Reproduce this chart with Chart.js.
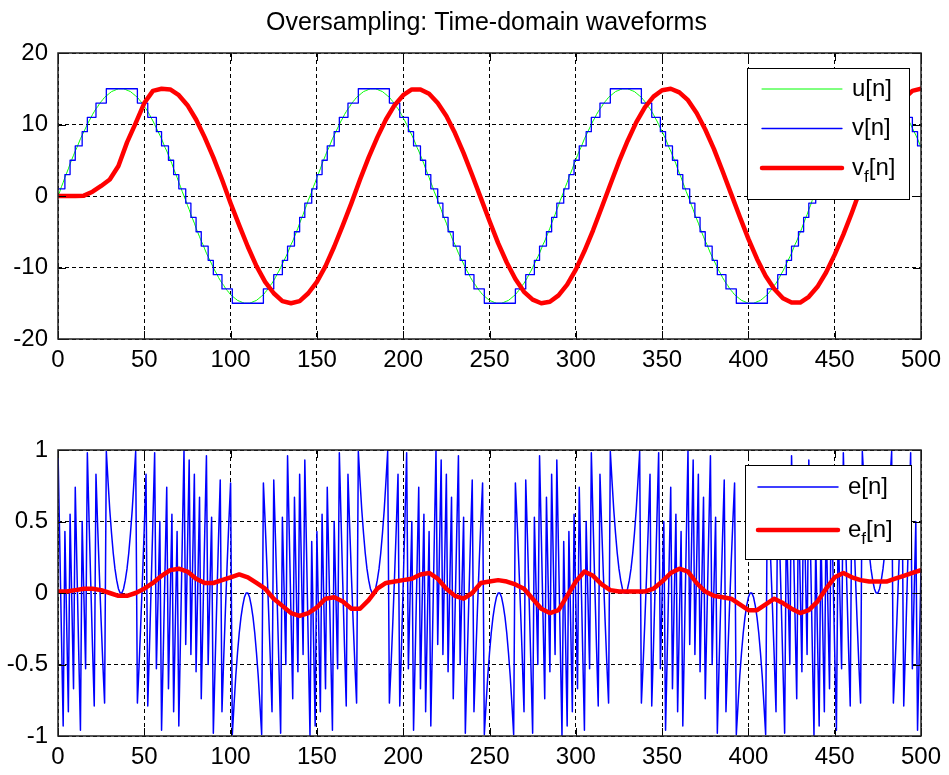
<!DOCTYPE html>
<html>
<head>
<meta charset="utf-8">
<script src="https://cdn.jsdelivr.net/npm/chart.js@4.4.1/dist/chart.umd.min.js"></script>
<style>
  body { margin: 0; background: #fff; }
  #wrap { position: relative; width: 949px; height: 775px; }
  canvas { position: absolute; left: 0; }
</style>
</head>
<body>
<div id="wrap">
  <canvas id="top" width="949" height="390" style="top:0"></canvas>
  <canvas id="bottom" width="949" height="385" style="top:390px"></canvas>
</div>
<script>
// u[n]: input sine, one value per sample n = 0..500
const u = [
  // n 0-145
  0,0.6,1.3,1.9,2.6,3.2,3.8,4.5,5.1,5.7,
  6.3,6.8,7.4,8.0,8.5,9.0,9.5,10.0,10.5,10.9,
  11.4,11.8,12.2,12.5,12.9,13.2,13.5,13.8,14.0,14.2,
  14.4,14.6,14.7,14.8,14.9,15.0,15.0,15.0,15.0,14.9,
  14.8,14.7,14.6,14.4,14.2,14.0,13.8,13.5,13.2,12.9,
  12.5,12.2,11.8,11.4,10.9,10.5,10.0,9.5,9.0,8.5,
  8.0,7.4,6.8,6.3,5.7,5.1,4.5,3.8,3.2,2.6,
  1.9,1.3,0.6,0,-0.6,-1.3,-1.9,-2.6,-3.2,-3.8,
  -4.5,-5.1,-5.7,-6.3,-6.8,-7.4,-8.0,-8.5,-9.0,-9.5,
  -10.0,-10.5,-10.9,-11.4,-11.8,-12.2,-12.5,-12.9,-13.2,-13.5,
  -13.8,-14.0,-14.2,-14.4,-14.6,-14.7,-14.8,-14.9,-15.0,-15.0,
  -15.0,-15.0,-14.9,-14.8,-14.7,-14.6,-14.4,-14.2,-14.0,-13.8,
  -13.5,-13.2,-12.9,-12.5,-12.2,-11.8,-11.4,-10.9,-10.5,-10.0,
  -9.5,-9.0,-8.5,-8.0,-7.4,-6.8,-6.3,-5.7,-5.1,-4.5,
  -3.8,-3.2,-2.6,-1.9,-1.3,-0.6,
  // n 146-291
  0,0.6,1.3,1.9,2.6,3.2,3.8,4.5,5.1,5.7,
  6.3,6.8,7.4,8.0,8.5,9.0,9.5,10.0,10.5,10.9,
  11.4,11.8,12.2,12.5,12.9,13.2,13.5,13.8,14.0,14.2,
  14.4,14.6,14.7,14.8,14.9,15.0,15.0,15.0,15.0,14.9,
  14.8,14.7,14.6,14.4,14.2,14.0,13.8,13.5,13.2,12.9,
  12.5,12.2,11.8,11.4,10.9,10.5,10.0,9.5,9.0,8.5,
  8.0,7.4,6.8,6.3,5.7,5.1,4.5,3.8,3.2,2.6,
  1.9,1.3,0.6,0,-0.6,-1.3,-1.9,-2.6,-3.2,-3.8,
  -4.5,-5.1,-5.7,-6.3,-6.8,-7.4,-8.0,-8.5,-9.0,-9.5,
  -10.0,-10.5,-10.9,-11.4,-11.8,-12.2,-12.5,-12.9,-13.2,-13.5,
  -13.8,-14.0,-14.2,-14.4,-14.6,-14.7,-14.8,-14.9,-15.0,-15.0,
  -15.0,-15.0,-14.9,-14.8,-14.7,-14.6,-14.4,-14.2,-14.0,-13.8,
  -13.5,-13.2,-12.9,-12.5,-12.2,-11.8,-11.4,-10.9,-10.5,-10.0,
  -9.5,-9.0,-8.5,-8.0,-7.4,-6.8,-6.3,-5.7,-5.1,-4.5,
  -3.8,-3.2,-2.6,-1.9,-1.3,-0.6,
  // n 292-437
  0,0.6,1.3,1.9,2.6,3.2,3.8,4.5,5.1,5.7,
  6.3,6.8,7.4,8.0,8.5,9.0,9.5,10.0,10.5,10.9,
  11.4,11.8,12.2,12.5,12.9,13.2,13.5,13.8,14.0,14.2,
  14.4,14.6,14.7,14.8,14.9,15.0,15.0,15.0,15.0,14.9,
  14.8,14.7,14.6,14.4,14.2,14.0,13.8,13.5,13.2,12.9,
  12.5,12.2,11.8,11.4,10.9,10.5,10.0,9.5,9.0,8.5,
  8.0,7.4,6.8,6.3,5.7,5.1,4.5,3.8,3.2,2.6,
  1.9,1.3,0.6,0,-0.6,-1.3,-1.9,-2.6,-3.2,-3.8,
  -4.5,-5.1,-5.7,-6.3,-6.8,-7.4,-8.0,-8.5,-9.0,-9.5,
  -10.0,-10.5,-10.9,-11.4,-11.8,-12.2,-12.5,-12.9,-13.2,-13.5,
  -13.8,-14.0,-14.2,-14.4,-14.6,-14.7,-14.8,-14.9,-15.0,-15.0,
  -15.0,-15.0,-14.9,-14.8,-14.7,-14.6,-14.4,-14.2,-14.0,-13.8,
  -13.5,-13.2,-12.9,-12.5,-12.2,-11.8,-11.4,-10.9,-10.5,-10.0,
  -9.5,-9.0,-8.5,-8.0,-7.4,-6.8,-6.3,-5.7,-5.1,-4.5,
  -3.8,-3.2,-2.6,-1.9,-1.3,-0.6,
  // n 438-500
  0,0.6,1.3,1.9,2.6,3.2,3.8,4.5,5.1,5.7,
  6.3,6.8,7.4,8.0,8.5,9.0,9.5,10.0,10.5,10.9,
  11.4,11.8,12.2,12.5,12.9,13.2,13.5,13.8,14.0,14.2,
  14.4,14.6,14.7,14.8,14.9,15.0,15.0,15.0,15.0,14.9,
  14.8,14.7,14.6,14.4,14.2,14.0,13.8,13.5,13.2,12.9,
  12.5,12.2,11.8,11.4,10.9,10.5,10.0,9.5,9.0,8.5,
  8.0,7.4,6.8
];

// v[n]: quantized staircase, sample where each level starts and the level
const vN = [
  0,4,7,10,14,17,22,28,46,52,57,60,64,67,70,
  74,77,80,83,87,90,95,101,119,125,130,133,137,140,143,
  147,150,153,156,160,163,168,174,192,198,203,206,210,213,216,
  220,223,226,229,233,236,241,247,265,271,276,279,283,286,289,
  293,296,299,302,306,309,314,320,338,344,349,352,356,359,362,
  366,369,372,375,379,382,387,393,411,417,422,425,429,432,435,
  439,442,445,448,452,455,460,466,484,490,495,498,500
];
const vLevel = [
  1,3,5,7,9,11,13,15,13,11,9,7,5,3,1,
  -1,-3,-5,-7,-9,-11,-13,-15,-13,-11,-9,-7,-5,-3,-1,
  1,3,5,7,9,11,13,15,13,11,9,7,5,3,1,
  -1,-3,-5,-7,-9,-11,-13,-15,-13,-11,-9,-7,-5,-3,-1,
  1,3,5,7,9,11,13,15,13,11,9,7,5,3,1,
  -1,-3,-5,-7,-9,-11,-13,-15,-13,-11,-9,-7,-5,-3,-1,
  1,3,5,7,9,11,13,15,13,11,9,7,7
];

// v_f[n]: filtered output, every 5th sample (n = 0, 5, ..., 500)
const vf = [
  0,0,0,0.05,0.6,1.4,2.3,4.2,7.5,10.2,
  13.0,14.7,15.0,14.9,14.1,12.7,10.7,8.2,5.4,2.3,
  -1.0,-4.1,-7.1,-9.8,-12.0,-13.6,-14.7,-15.0,-14.7,-13.6,
  -12.0,-9.8,-7.1,-4.1,-1.0,2.3,5.4,8.2,10.7,12.7,
  14.1,14.9,14.9,14.3,13.0,11.2,8.8,6.0,2.9,-0.3,
  -3.5,-6.6,-9.3,-11.6,-13.4,-14.5,-15.0,-14.8,-13.9,-12.4,
  -10.3,-7.7,-4.8,-1.6,1.6,4.8,7.7,10.3,12.4,13.9,
  14.8,15.0,14.5,13.4,11.6,9.3,6.6,3.5,0.3,-2.9,
  -6.0,-8.8,-11.2,-13.0,-14.3,-14.9,-14.9,-14.1,-12.7,-10.7,
  -8.2,-5.4,-2.3,1.0,4.1,7.1,9.8,12.0,13.6,14.7,
  15.0
];

// e[n]: quantization error, one value per sample n = 0..500
const e = [
  // n 0-145
  1.00,0.36,-0.29,-0.93,0.43,-0.20,-0.83,0.55,-0.06,-0.67,
  0.74,0.16,-0.41,-0.96,0.50,-0.02,-0.53,0.98,0.51,0.06,
  -0.38,-0.79,0.83,0.46,0.12,-0.20,-0.50,-0.77,0.99,0.78,
  0.58,0.42,0.28,0.17,0.09,0.03,0.00,0.00,0.03,0.09,
  0.17,0.28,0.42,0.58,0.78,0.99,-0.77,-0.50,-0.20,0.12,
  0.46,0.83,-0.79,-0.38,0.06,0.51,0.98,-0.53,-0.02,0.50,
  -0.96,-0.41,0.16,0.74,-0.67,-0.06,0.55,-0.83,-0.20,0.43,
  -0.93,-0.29,0.36,1.00,-0.36,0.29,0.93,-0.43,0.20,0.83,
  -0.55,0.06,0.67,-0.74,-0.16,0.41,0.96,-0.50,0.02,0.53,
  -0.98,-0.51,-0.06,0.38,0.79,-0.83,-0.46,-0.12,0.20,0.50,
  0.77,-0.99,-0.78,-0.58,-0.42,-0.28,-0.17,-0.09,-0.03,0.00,
  0.00,-0.03,-0.09,-0.17,-0.28,-0.42,-0.58,-0.78,-0.99,0.77,
  0.50,0.20,-0.12,-0.46,-0.83,0.79,0.38,-0.06,-0.51,-0.98,
  0.53,0.02,-0.50,0.96,0.41,-0.16,-0.74,0.67,0.06,-0.55,
  0.83,0.20,-0.43,0.93,0.29,-0.36,
  // n 146-291
  -1.00,0.36,-0.29,-0.93,0.43,-0.20,-0.83,0.55,-0.06,-0.67,
  0.74,0.16,-0.41,-0.96,0.50,-0.02,-0.53,0.98,0.51,0.06,
  -0.38,-0.79,0.83,0.46,0.12,-0.20,-0.50,-0.77,0.99,0.78,
  0.58,0.42,0.28,0.17,0.09,0.03,0.00,0.00,0.03,0.09,
  0.17,0.28,0.42,0.58,0.78,0.99,-0.77,-0.50,-0.20,0.12,
  0.46,0.83,-0.79,-0.38,0.06,0.51,0.98,-0.53,-0.02,0.50,
  -0.96,-0.41,0.16,0.74,-0.67,-0.06,0.55,-0.83,-0.20,0.43,
  -0.93,-0.29,0.36,1.00,-0.36,0.29,0.93,-0.43,0.20,0.83,
  -0.55,0.06,0.67,-0.74,-0.16,0.41,0.96,-0.50,0.02,0.53,
  -0.98,-0.51,-0.06,0.38,0.79,-0.83,-0.46,-0.12,0.20,0.50,
  0.77,-0.99,-0.78,-0.58,-0.42,-0.28,-0.17,-0.09,-0.03,0.00,
  0.00,-0.03,-0.09,-0.17,-0.28,-0.42,-0.58,-0.78,-0.99,0.77,
  0.50,0.20,-0.12,-0.46,-0.83,0.79,0.38,-0.06,-0.51,-0.98,
  0.53,0.02,-0.50,0.96,0.41,-0.16,-0.74,0.67,0.06,-0.55,
  0.83,0.20,-0.43,0.93,0.29,-0.36,
  // n 292-437
  -1.00,0.36,-0.29,-0.93,0.43,-0.20,-0.83,0.55,-0.06,-0.67,
  0.74,0.16,-0.41,-0.96,0.50,-0.02,-0.53,0.98,0.51,0.06,
  -0.38,-0.79,0.83,0.46,0.12,-0.20,-0.50,-0.77,0.99,0.78,
  0.58,0.42,0.28,0.17,0.09,0.03,0.00,0.00,0.03,0.09,
  0.17,0.28,0.42,0.58,0.78,0.99,-0.77,-0.50,-0.20,0.12,
  0.46,0.83,-0.79,-0.38,0.06,0.51,0.98,-0.53,-0.02,0.50,
  -0.96,-0.41,0.16,0.74,-0.67,-0.06,0.55,-0.83,-0.20,0.43,
  -0.93,-0.29,0.36,1.00,-0.36,0.29,0.93,-0.43,0.20,0.83,
  -0.55,0.06,0.67,-0.74,-0.16,0.41,0.96,-0.50,0.02,0.53,
  -0.98,-0.51,-0.06,0.38,0.79,-0.83,-0.46,-0.12,0.20,0.50,
  0.77,-0.99,-0.78,-0.58,-0.42,-0.28,-0.17,-0.09,-0.03,0.00,
  0.00,-0.03,-0.09,-0.17,-0.28,-0.42,-0.58,-0.78,-0.99,0.77,
  0.50,0.20,-0.12,-0.46,-0.83,0.79,0.38,-0.06,-0.51,-0.98,
  0.53,0.02,-0.50,0.96,0.41,-0.16,-0.74,0.67,0.06,-0.55,
  0.83,0.20,-0.43,0.93,0.29,-0.36,
  // n 438-500
  -1.00,0.36,-0.29,-0.93,0.43,-0.20,-0.83,0.55,-0.06,-0.67,
  0.74,0.16,-0.41,-0.96,0.50,-0.02,-0.53,0.98,0.51,0.06,
  -0.38,-0.79,0.83,0.46,0.12,-0.20,-0.50,-0.77,0.99,0.78,
  0.58,0.42,0.28,0.17,0.09,0.03,0.00,0.00,0.03,0.09,
  0.17,0.28,0.42,0.58,0.78,0.99,-0.77,-0.50,-0.20,0.12,
  0.46,0.83,-0.79,-0.38,0.06,0.51,0.98,-0.53,-0.02,0.50,
  -0.96,-0.41,0.16
];

// e_f[n]: filtered error, every 5th sample (n = 0, 5, ..., 500)
const ef = [
  0.01,0.01,0.02,0.03,0.03,0.02,0.00,-0.02,-0.02,0.00,
  0.03,0.07,0.12,0.16,0.17,0.15,0.10,0.07,0.07,0.09,
  0.11,0.13,0.11,0.07,0.03,-0.04,-0.09,-0.14,-0.16,-0.14,
  -0.10,-0.04,-0.03,-0.06,-0.11,-0.11,-0.05,0.03,0.07,0.08,
  0.09,0.10,0.13,0.14,0.10,0.03,-0.02,-0.04,0.00,0.07,
  0.08,0.09,0.08,0.06,0.03,-0.04,-0.11,-0.14,-0.12,-0.02,
  0.08,0.15,0.12,0.06,0.02,0.01,0.01,0.01,0.01,0.03,
  0.08,0.14,0.17,0.15,0.07,0.01,-0.02,-0.03,-0.04,-0.08,
  -0.12,-0.12,-0.08,-0.04,-0.07,-0.11,-0.14,-0.12,-0.06,0.03,
  0.11,0.14,0.11,0.09,0.08,0.08,0.08,0.10,0.12,0.14,
  0.16
];

const FONT = '"Liberation Sans", Arial, Helvetica, sans-serif';
Chart.defaults.font.family = FONT;
Chart.defaults.font.size = 24;
Chart.defaults.color = '#000';

const perSample = (arr) => arr.map((y, i) => ({ x: i, y }));
const every5 = (arr) => arr.map((y, i) => ({ x: 5 * i, y }));

// label like "v_f[n]" -> v, subscript f, [n]
const drawLabel = (ctx, text, x, y) => {
  const m = text.match(/^(\w)_(\w)(.*)$/);
  ctx.font = '24px ' + FONT;
  if (!m) {
    ctx.fillText(text, x, y);
    return;
  }
  ctx.fillText(m[1], x, y);
  let w = ctx.measureText(m[1]).width;
  ctx.font = '17px ' + FONT;
  ctx.fillText(m[2], x + w, y + 9);
  w += ctx.measureText(m[2]).width;
  ctx.font = '24px ' + FONT;
  ctx.fillText(m[3], x + w, y);
};

const matlabLook = {
  id: 'matlabLook',
  afterDraw(chart, args, opts) {
    const { ctx, chartArea: a, scales: { x, y } } = chart;
    ctx.save();

    // inward tick marks on all four sides
    ctx.strokeStyle = '#000';
    ctx.lineWidth = 1;
    ctx.setLineDash([]);
    ctx.beginPath();
    x.ticks.forEach((t) => {
      const px = Math.round(x.getPixelForValue(t.value)) + 0.5;
      ctx.moveTo(px, a.bottom); ctx.lineTo(px, a.bottom - 8);
      ctx.moveTo(px, a.top); ctx.lineTo(px, a.top + 8);
    });
    y.ticks.forEach((t) => {
      const py = Math.round(y.getPixelForValue(t.value)) + 0.5;
      ctx.moveTo(a.left, py); ctx.lineTo(a.left + 8, py);
      ctx.moveTo(a.right, py); ctx.lineTo(a.right - 8, py);
    });
    ctx.stroke();

    // axes box
    ctx.lineWidth = 1.5;
    ctx.strokeStyle = '#202020';
    ctx.strokeRect(a.left, a.top, a.right - a.left, a.bottom - a.top);

    // legend box
    const lg = opts.legend;
    const bx = a.right + lg.left, by = a.top + lg.top;
    ctx.fillStyle = '#fff';
    ctx.fillRect(bx, by, lg.width, lg.height);
    ctx.lineWidth = 1;
    ctx.strokeStyle = '#000';
    ctx.strokeRect(bx + 0.5, by + 0.5, lg.width, lg.height);
    ctx.textBaseline = 'middle';
    ctx.textAlign = 'left';
    chart.data.datasets.forEach((ds, i) => {
      const ry = by + lg.firstRow + i * lg.rowGap;
      ctx.strokeStyle = ds.borderColor;
      ctx.lineWidth = ds.borderWidth;
      ctx.lineCap = 'round';
      ctx.beginPath();
      ctx.moveTo(bx + lg.lineStart, ry);
      ctx.lineTo(bx + lg.lineStart + 80, ry);
      ctx.stroke();
      ctx.fillStyle = '#000';
      drawLabel(ctx, ds.label, bx + lg.lineStart + 90, ry);
    });

    if (opts.title) {
      ctx.font = '25px ' + FONT;
      ctx.fillStyle = '#000';
      ctx.textAlign = 'center';
      ctx.textBaseline = 'alphabetic';
      ctx.fillText(opts.title, (a.left + a.right) / 2 - 3, 30);
    }
    ctx.restore();
  }
};

const makeChart = (id, datasets, yMin, yMax, yStep, padTop, xHeight, look) => {
  return new Chart(document.getElementById(id), {
    type: 'line',
    data: { datasets },
    plugins: [matlabLook],
    options: {
      responsive: false,
      animation: false,
      events: [],
      layout: { padding: { top: padTop, right: 28, left: 0, bottom: 0 } },
      elements: { point: { radius: 0 }, line: { tension: 0, borderJoinStyle: 'round' } },
      plugins: { legend: { display: false }, tooltip: { enabled: false }, matlabLook: look },
      scales: {
        x: {
          type: 'linear', min: 0, max: 500,
          ticks: { stepSize: 50, padding: 7, maxRotation: 0, callback: (v) => String(v) },
          grid: { color: '#000', lineWidth: 1, drawTicks: false },
          border: { display: false, dash: [4, 3] },
          afterFit: (s) => { s.height = xHeight; }
        },
        y: {
          min: yMin, max: yMax,
          ticks: { stepSize: yStep, padding: 10, callback: (v) => String(v) },
          grid: { color: '#000', lineWidth: 1, drawTicks: false },
          border: { display: false, dash: [4, 3] },
          afterFit: (s) => { s.width = 58; }
        }
      }
    }
  });
};

makeChart('top', [
  { label: 'u[n]', data: perSample(u), borderColor: '#00ff00', borderWidth: 1, order: 2 },
  { label: 'v[n]', data: vN.map((n, i) => ({ x: n, y: vLevel[i] })), borderColor: '#0000ff', borderWidth: 1.3, stepped: true, order: 1 },
  { label: 'v_f[n]', data: every5(vf), borderColor: '#ff0000', borderWidth: 4.5, borderCapStyle: 'round', order: 0 }
], -20, 20, 10, 53, 51, {
  title: 'Oversampling: Time-domain waveforms',
  legend: { left: -174, top: 15, width: 162, height: 131, firstRow: 21, rowGap: 39.5, lineStart: 15 }
});

makeChart('bottom', [
  { label: 'e[n]', data: perSample(e), borderColor: '#0000ff', borderWidth: 1.5, order: 1 },
  { label: 'e_f[n]', data: every5(ef), borderColor: '#ff0000', borderWidth: 4.5, borderCapStyle: 'round', order: 0 }
], -1, 1, 0.5, 60, 39, {
  legend: { left: -176, top: 15, width: 166, height: 94, firstRow: 22, rowGap: 43, lineStart: 13 }
});
</script>
</body>
</html>
